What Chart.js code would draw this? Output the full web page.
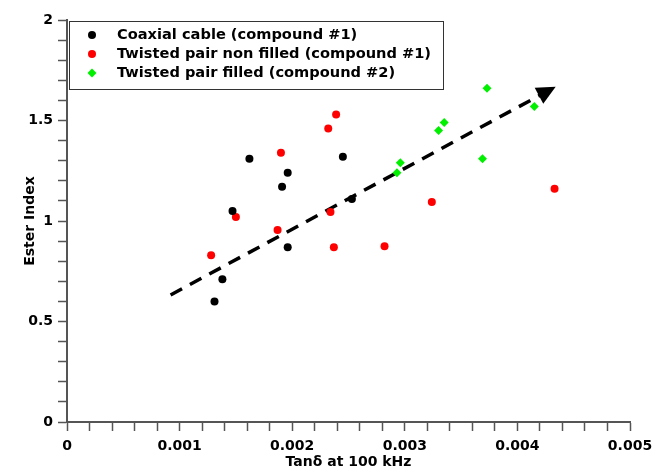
<!DOCTYPE html>
<html>
<head>
<meta charset="utf-8">
<script src="https://cdn.jsdelivr.net/npm/chart.js@4/dist/chart.umd.min.js"></script>
<style>
  body { margin: 0; background: #fff; }
  #wrap { width: 655px; height: 471px; position: relative; }
</style>
</head>
<body>
<div id="wrap"><canvas id="esterChart"></canvas></div>
<script>
// values
const seriesNames = [
    'Coaxial cable (compound #1)',
    'Twisted pair non filled (compound #1)',
    'Twisted pair filled (compound #2)'
];
const coaxX = [0.00131, 0.00138, 0.00147, 0.00162, 0.00191, 0.00196, 0.00196, 0.00245, 0.00253];
const coaxY = [0.60, 0.71, 1.05, 1.31, 1.17, 1.24, 0.87, 1.32, 1.11];
const nonFilledX = [0.00128, 0.00150, 0.00190, 0.00187, 0.00232, 0.00239, 0.00234, 0.00237, 0.00282, 0.00324, 0.00433];
const nonFilledY = [0.83, 1.02, 1.34, 0.955, 1.46, 1.53, 1.045, 0.87, 0.875, 1.095, 1.16];
const filledX = [0.00293, 0.00296, 0.00330, 0.00335, 0.00369, 0.00373, 0.00415];
const filledY = [1.24, 1.29, 1.45, 1.49, 1.31, 1.66, 1.57];
// trend arrow, start and tip
const arrowX = [0.00092, 0.00434];
const arrowY = [0.632, 1.668];
const xTickLabels = ['0', '0.001', '0.002', '0.003', '0.004', '0.005'];
const yTickLabels = ['0', '0.5', '1', '1.5', '2'];

function toPoints(xs, ys) {
    return xs.map((x, i) => ({ x: x, y: ys[i] }));
}

const FONT = "'DejaVu Sans', Verdana, sans-serif";

// arrowhead at the end of the dashed trend line
const arrowHead = {
    id: 'arrowHead',
    afterDatasetsDraw(chart) {
        const meta = chart.getDatasetMeta(3);
        const pts = meta.data;
        if (pts.length < 2) return;
        const p0 = pts[pts.length - 2], p1 = pts[pts.length - 1];
        const ang = Math.atan2(p1.y - p0.y, p1.x - p0.x);
        const len = 19, half = 9;
        const bx = p1.x - Math.cos(ang) * len, by = p1.y - Math.sin(ang) * len;
        const ctx = chart.ctx;
        ctx.save();
        ctx.fillStyle = '#000';
        ctx.beginPath();
        ctx.moveTo(p1.x, p1.y);
        ctx.lineTo(bx + Math.sin(ang) * half, by - Math.cos(ang) * half);
        ctx.lineTo(bx - Math.sin(ang) * half, by + Math.cos(ang) * half);
        ctx.closePath();
        ctx.fill();
        ctx.restore();
    }
};

// framed legend inside the plot
const legendBox = {
    id: 'legendBox',
    afterDraw(chart) {
        const { ctx, chartArea } = chart;
        const x = chartArea.left + 2, y = chartArea.top + 1, w = 374, h = 68;
        ctx.save();
        ctx.fillStyle = '#fff';
        ctx.fillRect(x, y, w, h);
        ctx.strokeStyle = '#333';
        ctx.lineWidth = 1;
        ctx.strokeRect(x + 0.5, y + 0.5, w, h);
        ctx.font = 'bold 14.6px ' + FONT;
        ctx.textBaseline = 'middle';
        ctx.textAlign = 'left';
        seriesNames.forEach((name, i) => {
            const ds = chart.data.datasets[i];
            const cy = y + 14 + i * 19;
            ctx.fillStyle = ds.backgroundColor;
            Chart.helpers.drawPoint(ctx, {
                pointStyle: ds.pointStyle,
                radius: ds.pointRadius,
                rotation: 0,
                borderWidth: 0
            }, x + 23, cy);
            ctx.fillStyle = '#000';
            ctx.fillText(name, x + 48, cy);
        });
        ctx.restore();
    }
};

document.addEventListener('DOMContentLoaded', function () {
    const ctx = document.getElementById('esterChart').getContext('2d');
    new Chart(ctx, {
        type: 'scatter',
        data: {
            datasets: [{
                label: seriesNames[0],
                data: toPoints(coaxX, coaxY),
                backgroundColor: '#000000',
                borderColor: '#000000',
                pointStyle: 'circle',
                pointRadius: 4,
                pointBorderWidth: 0
            }, {
                label: seriesNames[1],
                data: toPoints(nonFilledX, nonFilledY),
                backgroundColor: '#ff0000',
                borderColor: '#ff0000',
                pointStyle: 'circle',
                pointRadius: 4,
                pointBorderWidth: 0
            }, {
                label: seriesNames[2],
                data: toPoints(filledX, filledY),
                backgroundColor: '#00f000',
                borderColor: '#00f000',
                pointStyle: 'rectRot',
                pointRadius: 4.5,
                pointBorderWidth: 0
            }, {
                type: 'line',
                label: 'trend',
                data: toPoints(arrowX, arrowY),
                borderColor: '#000',
                borderWidth: 3.5,
                borderDash: [13, 9],
                pointRadius: 0,
                fill: false,
                order: 10
            }]
        },
        options: {
            responsive: true,
            maintainAspectRatio: false,
            animation: false,
            layout: { padding: { top: 20, right: 25, left: 0, bottom: 0 } },
            plugins: {
                legend: { display: false },
                tooltip: { enabled: false }
            },
            scales: {
                x: {
                    type: 'linear',
                    min: 0,
                    max: 0.005,
                    afterFit: function (scale) {
                        scale.height = 49;
                        scale.paddingRight = 0;
                    },
                    border: { color: '#555', width: 2 },
                    grid: { drawOnChartArea: false, drawTicks: true, tickLength: 9, tickColor: '#555', tickWidth: 1.5 },
                    ticks: {
                        stepSize: 0.0002,
                        autoSkip: false,
                        maxRotation: 0,
                        padding: 7,
                        color: '#000',
                        font: { family: FONT, size: 14, weight: 'bold' },
                        callback: function (v) {
                            const k = v * 1000;
                            return Math.abs(k - Math.round(k)) < 1e-6 ? xTickLabels[Math.round(k)] : '';
                        }
                    },
                    title: {
                        display: true,
                        text: 'Tanδ at 100 kHz',
                        color: '#000',
                        font: { family: FONT, size: 14, weight: 'bold' },
                        padding: { top: 0, bottom: 0 }
                    }
                },
                y: {
                    min: 0,
                    max: 2,
                    afterFit: function (scale) { scale.width = 67; },
                    border: { color: '#555', width: 2 },
                    grid: { drawOnChartArea: false, drawTicks: true, tickLength: 9, tickColor: '#555', tickWidth: 1.5 },
                    ticks: {
                        stepSize: 0.1,
                        autoSkip: false,
                        padding: 5,
                        color: '#000',
                        font: { family: FONT, size: 14, weight: 'bold' },
                        callback: function (v) {
                            const k = v * 2;
                            return Math.abs(k - Math.round(k)) < 1e-6 ? yTickLabels[Math.round(k)] : '';
                        }
                    },
                    title: {
                        display: true,
                        text: 'Ester Index',
                        color: '#000',
                        font: { family: FONT, size: 14, weight: 'bold' },
                        padding: { top: 22, bottom: 0 }
                    }
                }
            }
        },
        plugins: [arrowHead, legendBox]
    });
});
</script>
</body>
</html>
